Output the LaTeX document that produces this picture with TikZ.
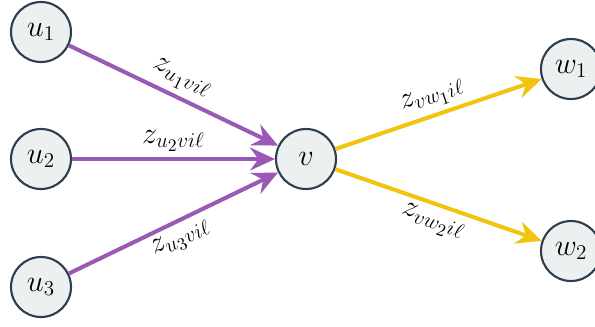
\documentclass[tikz,border=0pt]{standalone}
\usepackage{amsmath}
\usetikzlibrary{arrows.meta,positioning}
\definecolor{nodefill}{HTML}{ECF0F1}
\definecolor{nodeline}{HTML}{2C3E50}
\definecolor{inpurple}{HTML}{9B59B6}
\definecolor{outyellow}{HTML}{F1C40F}

\begin{document}
\begin{tikzpicture}[x=0.02cm,y=-0.02cm,
vert/.style={circle,draw=nodeline,fill=nodefill,line width=1.2pt,minimum size=1.2cm,inner sep=0pt,font=\LARGE},
inedge/.style={draw=inpurple,line width=2.3pt,-{Stealth[length=0.5cm,width=0.46cm,inset=0.17cm]}},
outedge/.style={draw=outyellow,line width=2.3pt,-{Stealth[length=0.5cm,width=0.46cm,inset=0.17cm]}},
elabel/.style={font=\LARGE,sloped,inner sep=3pt}]
\useasboundingbox (0,0) rectangle (595,326);
\node[vert] (u1) at (41,32) {$u_1$};
\node[vert] (u2) at (41,159) {$u_2$};
\node[vert] (u3) at (41,287) {$u_3$};
\node[vert] (v) at (306,159) {$v$};
\node[vert] (w1) at (571,69) {$w_1$};
\node[vert] (w2) at (571,251) {$w_2$};
\draw[inedge] (u1) -- node[elabel,above] (l1) {$z_{u_1vi\ell}$} (v);
\draw[inedge] (u2) -- node[elabel,above] (l2) {$z_{u_2vi\ell}$} (v);
\draw[inedge] (u3) -- node[elabel,below] (l3) {$z_{u_3vi\ell}$} (v);
\draw[outedge] (v) -- node[elabel,above] (l4) {$z_{vw_1i\ell}$} (w1);
\draw[outedge] (v) -- node[elabel,below] (l5) {$z_{vw_2i\ell}$} (w2);
\end{tikzpicture}
\end{document}
